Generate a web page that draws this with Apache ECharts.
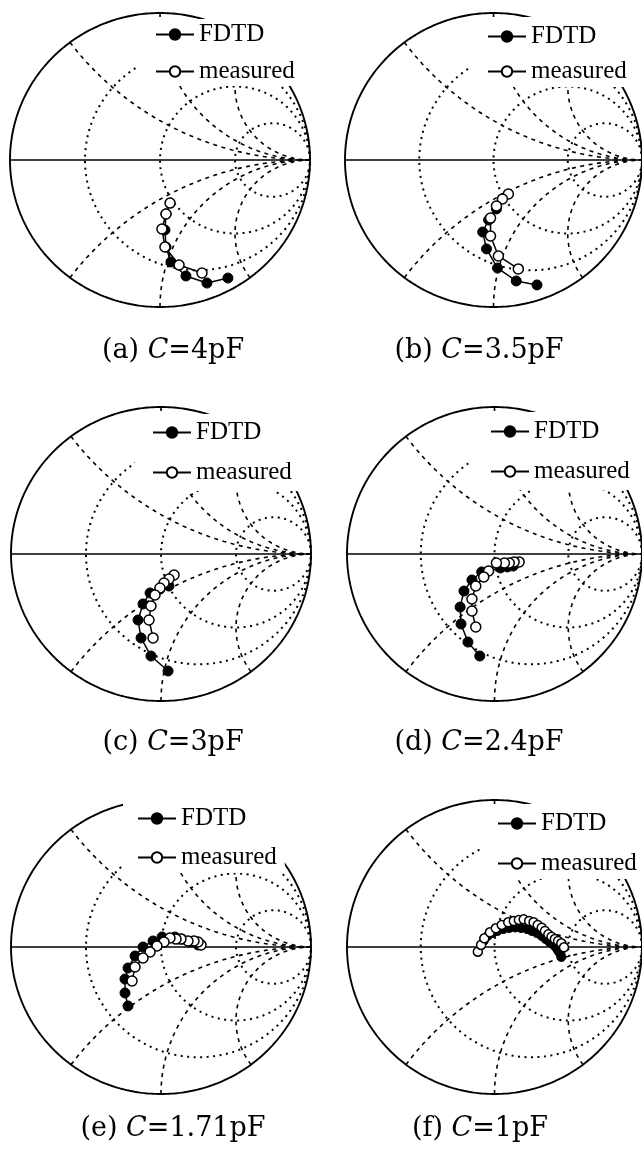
<!DOCTYPE html>
<html>
<head>
<meta charset="utf-8">
<script src="https://cdn.jsdelivr.net/npm/echarts@6/dist/echarts.min.js"></script>
<style>
  html, body { margin: 0; padding: 0; background: #ffffff; }
  #chart { width: 642px; height: 1151px; }
</style>
</head>
<body>
<div id="chart"></div>
<script>
// Reflection coefficient S11 as [real, imaginary] pairs, one sweep per capacitance.
const captions = [
  '(a) {i|C}=4pF', '(b) {i|C}=3.5pF',
  '(c) {i|C}=3pF', '(d) {i|C}=2.4pF',
  '(e) {i|C}=1.71pF', '(f) {i|C}=1pF'
];
const seriesNames = ['FDTD', 'measured'];

const fdtd4pF = [[0.04,-0.367],[0.033,-0.476],[0.04,-0.592],[0.073,-0.694],[0.173,-0.789],[0.313,-0.837],[0.453,-0.803]];
const meas4pF = [[0.067,-0.293],[0.04,-0.367],[0.013,-0.469],[0.033,-0.592],[0.127,-0.714],[0.28,-0.769]];

const fdtd35pF = [[0.02,-0.333],[-0.033,-0.408],[-0.073,-0.49],[-0.047,-0.605],[0.027,-0.735],[0.153,-0.823],[0.293,-0.85]];
const meas35pF = [[0.1,-0.231],[0.06,-0.265],[0.02,-0.313],[-0.02,-0.395],[-0.02,-0.517],[0.033,-0.653],[0.167,-0.741]];

const fdtd3pF = [[0.053,-0.218],[-0.007,-0.238],[-0.073,-0.265],[-0.12,-0.34],[-0.153,-0.449],[-0.133,-0.571],[-0.067,-0.694],[0.047,-0.796]];
const meas3pF = [[0.087,-0.143],[0.053,-0.17],[0.02,-0.197],[-0.007,-0.231],[-0.04,-0.279],[-0.067,-0.354],[-0.08,-0.449],[-0.053,-0.571]];

const fdtd24pF = [[0.127,-0.082],[0.087,-0.088],[0.04,-0.095],[-0.087,-0.122],[-0.153,-0.177],[-0.207,-0.252],[-0.233,-0.361],[-0.227,-0.476],[-0.18,-0.599],[-0.1,-0.694]];
const meas24pF = [[0.167,-0.054],[0.133,-0.054],[0.1,-0.061],[0.067,-0.061],[0.013,-0.061],[-0.04,-0.116],[-0.073,-0.156],[-0.127,-0.218],[-0.153,-0.306],[-0.153,-0.388],[-0.127,-0.497]];

const fdtd171pF = [[0.247,0.014],[0.193,0.034],[0.14,0.054],[0.093,0.068],[0.007,0.068],[-0.053,0.041],[-0.12,0.0],[-0.173,-0.061],[-0.22,-0.143],[-0.24,-0.218],[-0.24,-0.313],[-0.22,-0.401]];
const meas171pF = [[0.267,0.014],[0.247,0.034],[0.22,0.041],[0.18,0.041],[0.133,0.054],[0.1,0.054],[0.06,0.061],[0.02,0.034],[-0.027,0.007],[-0.073,-0.034],[-0.12,-0.075],[-0.173,-0.136],[-0.193,-0.231]];

const fdtd1pF = [[-0.073,0.041],[-0.047,0.075],[-0.013,0.095],[0.02,0.109],[0.06,0.122],[0.1,0.129],[0.14,0.133],[0.18,0.129],[0.22,0.122],[0.253,0.109],[0.287,0.095],[0.32,0.075],[0.347,0.054],[0.373,0.034],[0.4,0.014],[0.42,-0.007],[0.433,-0.027],[0.447,-0.048],[0.453,-0.068]];
const meas1pF = [[-0.113,-0.032],[-0.091,0.014],[-0.069,0.059],[-0.031,0.1],[0.009,0.127],[0.049,0.15],[0.093,0.168],[0.131,0.177],[0.165,0.184],[0.198,0.188],[0.235,0.177],[0.265,0.168],[0.293,0.15],[0.32,0.131],[0.342,0.109],[0.365,0.086],[0.387,0.07],[0.409,0.054],[0.431,0.041],[0.453,0.025],[0.471,-0.002]];

// Smith chart grid values (normalised impedance)
const resistanceCircles = [1 / 3, 1, 3];
const reactanceArcs = [0.5, 1, 2];

const legendFont = 'Liberation Serif';
const captionFont = 'DejaVu Serif';

// Panel placement on the page
const panels = [
  { cx: 160, cy: 160, fdtd: fdtd4pF,   meas: meas4pF,   capX: 168, capY: 348, leg: { left: 138, top: 19,  padding: [3, 8, 2, 17], itemGap: 12 } },
  { cx: 495, cy: 160, fdtd: fdtd35pF,  meas: meas35pF,  capX: 474, capY: 348, leg: { left: 470, top: 17,  padding: [7, 8, 3, 17], itemGap: 10 } },
  { cx: 161, cy: 554, fdtd: fdtd3pF,   meas: meas3pF,   capX: 168, capY: 740, leg: { left: 135, top: 414, padding: [6, 8, 6, 17], itemGap: 15 } },
  { cx: 497, cy: 554, fdtd: fdtd24pF,  meas: meas24pF,  capX: 474, capY: 740, leg: { left: 470, top: 412, padding: [7, 8, 6, 20], itemGap: 15 } },
  { cx: 161, cy: 947, fdtd: fdtd171pF, meas: meas171pF, capX: 168, capY: 1126, leg: { left: 123, top: 798, padding: [8, 8, 3, 14], itemGap: 14 } },
  { cx: 497, cy: 947, fdtd: fdtd1pF,   meas: meas1pF,   capX: 475, capY: 1126, leg: { left: 483, top: 804, padding: [7, 8, 3, 14], itemGap: 15 } }
];

const RX = 150, RY = 147;

function arcPoints(cx, cy, r, a0, a1, n) {
  const pts = [];
  for (let k = 0; k <= n; k++) {
    const a = a0 + (a1 - a0) * k / n;
    pts.push([cx + r * Math.cos(a), cy + r * Math.sin(a)]);
  }
  return pts;
}

function gridSeries(idx) {
  const base = {
    type: 'line', xAxisIndex: idx, yAxisIndex: idx, symbol: 'none', showSymbol: false,
    silent: true, animation: false, z: 1, legendHoverLink: false
  };
  const out = [];
  // outer |Γ| = 1 boundary
  out.push(Object.assign({}, base, {
    data: arcPoints(0, 0, 1, 0, 2 * Math.PI, 360),
    lineStyle: { color: '#000', width: 1.9 }
  }));
  // real axis
  out.push(Object.assign({}, base, {
    data: [[-1, 0], [1, 0]],
    lineStyle: { color: '#000', width: 1.5 }
  }));
  // constant resistance circles
  resistanceCircles.forEach(function (r) {
    out.push(Object.assign({}, base, {
      data: arcPoints(r / (1 + r), 0, 1 / (1 + r), 0, 2 * Math.PI, 300),
      lineStyle: { color: '#000', width: 2, type: [2, 4.5] }
    }));
  });
  // constant reactance arcs, inductive and capacitive halves
  reactanceArcs.forEach(function (x) {
    const c = 1 / x;
    const g0x = (x * x - 1) / (x * x + 1), g0y = 2 * x / (x * x + 1);
    let a0 = Math.atan2(g0y - c, g0x - 1);
    if (a0 < 0) a0 += 2 * Math.PI;
    const pts = arcPoints(1, c, c, a0, 1.5 * Math.PI, 240);
    out.push(Object.assign({}, base, {
      data: pts,
      lineStyle: { color: '#000', width: 1.6, type: [4, 4.5] }
    }));
    out.push(Object.assign({}, base, {
      data: pts.map(function (p) { return [p[0], -p[1]]; }),
      lineStyle: { color: '#000', width: 1.6, type: [4, 4.5] }
    }));
  });
  return out;
}

const grids = [], xAxes = [], yAxes = [], series = [], legends = [], titles = [];

panels.forEach(function (p, i) {
  grids.push({ left: p.cx - RX, top: p.cy - RY, width: 2 * RX, height: 2 * RY });
  xAxes.push({ type: 'value', gridIndex: i, min: -1, max: 1, show: false });
  yAxes.push({ type: 'value', gridIndex: i, min: -1, max: 1, show: false });
  gridSeries(i).forEach(function (s) { series.push(s); });

  series.push({
    name: seriesNames[0], type: 'line', xAxisIndex: i, yAxisIndex: i,
    data: p.fdtd, symbol: 'circle', symbolSize: i === 5 ? 9 : 10, showAllSymbol: true,
    lineStyle: { color: '#000', width: 1.5 },
    itemStyle: { color: '#000', borderColor: '#000', borderWidth: 1 },
    animation: false, z: 3
  });
  series.push({
    name: seriesNames[1], type: 'line', xAxisIndex: i, yAxisIndex: i,
    data: p.meas, symbol: 'circle', symbolSize: i === 5 ? 9 : 10, showAllSymbol: true,
    lineStyle: { color: '#000', width: 1.5 },
    itemStyle: { color: '#fff', borderColor: '#000', borderWidth: 1.5 },
    animation: false, z: 4
  });

  legends.push({
    data: seriesNames, orient: 'vertical', left: p.leg.left, top: p.leg.top,
    padding: p.leg.padding, itemGap: p.leg.itemGap,
    itemWidth: 38, itemHeight: 13, backgroundColor: '#fff',
    selectedMode: false, z: 6,
    textStyle: { fontFamily: legendFont, fontSize: 25, color: '#000', lineHeight: 25 }
  });

  titles.push({
    text: captions[i], left: p.capX, top: p.capY - 16, textAlign: 'center',
    textStyle: {
      fontFamily: captionFont, fontSize: 27, fontWeight: 'normal', color: '#000',
      rich: { i: { fontFamily: captionFont, fontSize: 27, fontStyle: 'italic', color: '#000' } }
    }
  });
});

const chart = echarts.init(document.getElementById('chart'), null, { renderer: 'canvas' });
chart.setOption({
  backgroundColor: '#fff',
  animation: false,
  title: titles,
  legend: legends,
  grid: grids,
  xAxis: xAxes,
  yAxis: yAxes,
  series: series
});
</script>
</body>
</html>
